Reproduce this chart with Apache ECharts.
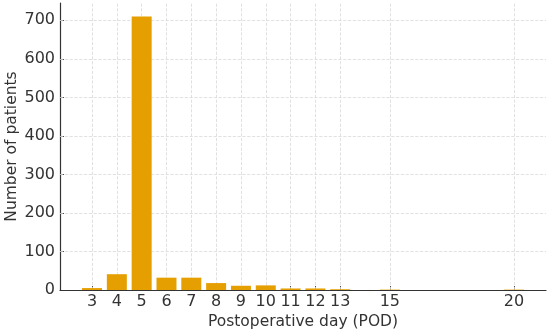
<!DOCTYPE html>
<html>
<head>
<meta charset="utf-8">
<script src="https://cdn.jsdelivr.net/npm/echarts@6/dist/echarts.min.js"></script>
<style>
  html, body { margin: 0; padding: 0; background: #fff; }
  #chart { width: 550px; height: 334px; }
</style>
</head>
<body>
<div id="chart"></div>
<script>
// postoperative day and patient counts
const days = [3, 4, 5, 6, 7, 8, 9, 10, 11, 12, 13, 15, 20];
const patients = [5, 41, 710, 32, 32, 18, 11, 12, 4, 4, 2, 1, 1];
const yTicks = [0, 100, 200, 300, 400, 500, 600, 700];

const chart = echarts.init(document.getElementById('chart'));
const font = 'DejaVu Sans';
const gridLine = { color: '#d9d9d9', type: 'dashed', width: 0.8 };

chart.setOption({
    animation: false,
    grid: { left: 60, right: 4, top: 3, bottom: 44, outerBoundsMode: 'none' },
    xAxis: {
        type: 'value',
        min: 1.71,
        max: 21.29,
        name: 'Postoperative day (POD)',
        nameLocation: 'middle',
        nameGap: 24,
        nameMoveOverlap: false,
        nameTextStyle: { fontFamily: font, fontSize: 15.5, color: '#333' },
        axisLine: { lineStyle: { color: '#333', width: 1.2 } },
        axisTick: { inside: true, length: 4, customValues: days, lineStyle: { color: '#333' } },
        axisLabel: { customValues: days, fontFamily: font, fontSize: 16, color: '#333', margin: 4 },
        splitLine: { show: false }
    },
    yAxis: {
        type: 'value',
        min: 0,
        max: 745,
        name: 'Number of patients',
        nameLocation: 'middle',
        nameGap: 40,
        nameMoveOverlap: false,
        nameTextStyle: { fontFamily: font, fontSize: 15.5, color: '#333' },
        axisLine: { show: true, lineStyle: { color: '#333', width: 1.2 } },
        axisTick: { show: true, inside: true, length: 4, customValues: yTicks, lineStyle: { color: '#333' } },
        axisLabel: { customValues: yTicks, fontFamily: font, fontSize: 16, color: '#333', margin: 5 },
        splitLine: { show: false }
    },
    series: [
        {
            // grid lines only at the tick positions, behind the bars
            type: 'line',
            data: [],
            z: 1,
            markLine: {
                z: 1,
                silent: true,
                symbol: 'none',
                label: { show: false },
                lineStyle: gridLine,
                data: days.map(d => ({ xAxis: d })).concat(yTicks.slice(1).map(v => ({ yAxis: v })))
            }
        },
        {
            type: 'bar',
            z: 3,
            barWidth: 20,
            itemStyle: { color: '#E69F00' },
            data: days.map((d, i) => [d, patients[i]])
        }
    ]
});
</script>
</body>
</html>
